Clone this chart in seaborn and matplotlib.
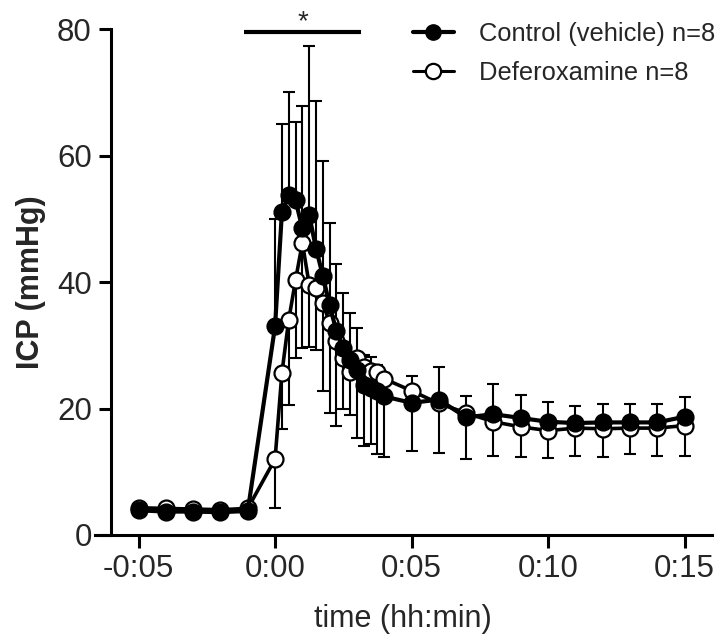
import numpy as np
import pandas as pd
import seaborn as sns
from matplotlib import pyplot as plt

# time in minutes relative to injection
time_min = [-5, -4, -3, -2, -1,
            0, 0.25, 0.5, 0.75, 1.0, 1.25, 1.5, 1.75, 2.0, 2.25, 2.5, 2.75,
            3.0, 3.25, 3.5, 3.75, 4.0,
            5, 6, 7, 8, 9, 10, 11, 12, 13, 14, 15]

ctrl_mean = [3.9, 3.7, 3.7, 3.6, 3.8,
             33.0, 51.0, 53.8, 52.9, 48.5, 50.6, 45.3, 41.0, 36.3, 32.2, 29.5, 27.7,
             26.1, 23.7, 23.2, 22.7, 21.9,
             20.9, 21.4, 18.6, 19.1, 18.5, 17.9, 17.7, 17.8, 17.8, 17.8, 18.7]
ctrl_sd = [0.6, 0.6, 0.6, 0.6, 0.6,
           17.0, 14.0, 16.3, 12.4, 19.3, 26.8, 23.4, 18.2, 13.1, 10.6, 8.7, 7.4,
           6.6, 4.8, 5.0, 4.2, 3.7,
           4.3, 5.2, 3.4, 4.8, 3.7, 3.1, 2.7, 2.9, 2.9, 2.9, 3.1]

dfo_mean = [4.3, 4.2, 4.1, 4.0, 4.2,
            12.0, 25.6, 34.0, 40.3, 46.2, 39.6, 39.0, 36.7, 33.5, 30.6, 28.0, 25.8,
            28.0, 26.6, 26.0, 25.8, 24.7,
            22.8, 20.8, 19.3, 17.9, 17.1, 16.5, 16.9, 16.8, 16.9, 16.9, 17.3]
dfo_sd = [0.6, 0.6, 0.6, 0.6, 0.6,
          7.7, 8.9, 13.4, 12.3, 16.7, 9.8, 9.7, 13.9, 14.2, 13.3, 8.1, 6.9,
          12.7, 12.6, 11.6, 13.0, 12.3,
          9.5, 7.8, 7.3, 5.4, 4.8, 4.4, 4.4, 4.5, 4.1, 4.4, 4.8]

x_ticks = [-5, 0, 5, 10, 15]
x_labels = ['-0:05', '0:00', '0:05', '0:10', '0:15']
y_ticks = [0, 20, 40, 60, 80]

labels = ['Control (vehicle) n=8', 'Deferoxamine n=8']

# significance bar (minutes) and its height
sig_start, sig_end, sig_y = -1.14, 3.15, 79.5

sns.set_style("ticks")
plt.rcParams['font.family'] = ['Liberation Sans', 'DejaVu Sans']

df = pd.DataFrame({'time': time_min, 'ctrl': ctrl_mean, 'dfo': dfo_mean})

fig = plt.figure(figsize=(7.19, 6.42), dpi=100)
ax = fig.add_axes([0.132, 0.1667, 0.858, 0.788])

zeros = np.zeros(len(time_min))
# SD above for control, below for deferoxamine
ax.errorbar(df['time'], df['ctrl'], yerr=[zeros, ctrl_sd], fmt='none',
            ecolor='black', elinewidth=1.5, capsize=4, capthick=1.5, zorder=2)
ax.errorbar(df['time'], df['dfo'], yerr=[dfo_sd, zeros], fmt='none',
            ecolor='black', elinewidth=1.5, capsize=4, capthick=1.5, zorder=2)

sns.lineplot(data=df, x='time', y='dfo', color='black', lw=2.6, marker='o',
             markersize=11.5, markerfacecolor='white', markeredgecolor='black',
             markeredgewidth=1.6, errorbar=None, ax=ax, zorder=3)
sns.lineplot(data=df, x='time', y='ctrl', color='black', lw=3.0, marker='o',
             markersize=11.5, markerfacecolor='black', markeredgecolor='black',
             markeredgewidth=1.6, errorbar=None, ax=ax, zorder=4)

ax.set_xlim(-6.6, 16)
ax.set_ylim(0, 80)
ax.set_xticks(x_ticks)
ax.set_xticklabels(x_labels)
ax.set_yticks(y_ticks)
ax.tick_params(labelsize=22.5, length=9, width=2.2, pad=5, color='black')

sns.despine(ax=ax)
ax.spines['left'].set_position(('data', -6))
for s in ['left', 'bottom']:
    ax.spines[s].set_linewidth(2.2)
    ax.spines[s].set_color('black')

ax.set_xlabel('time (hh:min)', fontsize=22, labelpad=14)
ax.set_ylabel('ICP (mmHg)', fontsize=22, fontweight='bold', labelpad=8)

ax.plot([sig_start, sig_end], [sig_y, sig_y], color='black', lw=3,
        solid_capstyle='butt', clip_on=False)
ax.text((sig_start + sig_end) / 2, sig_y - 0.4, '*', fontsize=20,
        ha='center', va='bottom')

h_ctrl = plt.Line2D([], [], color='black', lw=3.0, marker='o', markersize=11,
                    markerfacecolor='black', markeredgecolor='black')
h_dfo = plt.Line2D([], [], color='black', lw=2.2, marker='o', markersize=11,
                   markerfacecolor='white', markeredgecolor='black',
                   markeredgewidth=1.6)
fig.legend([h_ctrl, h_dfo], labels, loc='upper left',
           bbox_to_anchor=(413 / 719, 1 - 22 / 642), frameon=False,
           fontsize=18.4, handlelength=1.6, handletextpad=1.0,
           labelspacing=0.6, borderpad=0, borderaxespad=0)

fig.savefig('out.png', dpi=100)
